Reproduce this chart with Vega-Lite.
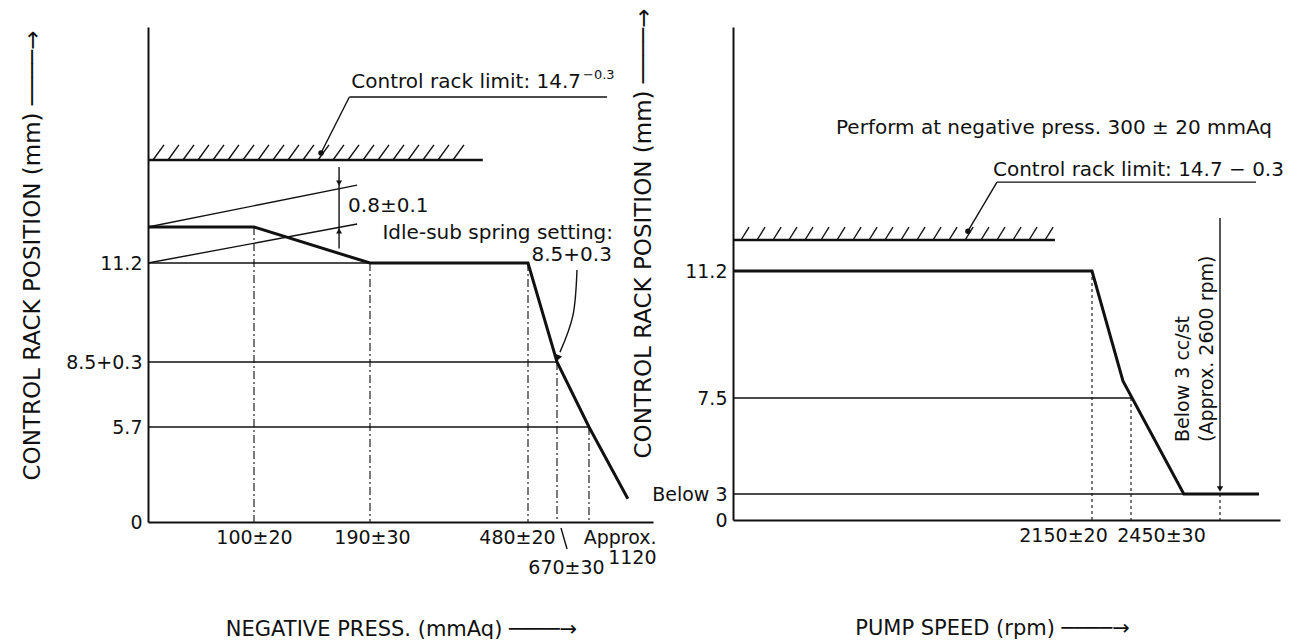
{
  "$schema": "https://vega.github.io/schema/vega-lite/v6.json",
  "background": "white",
  "padding": {"left": 20, "top": 0, "right": 5, "bottom": 0},
  "spacing": 80,
  "bounds": "flush",
  "datasets": {
    "L_curve": [{"x":0,"y":12.0},{"x":100,"y":12.0},{"x":190,"y":11.2},{"x":480,"y":11.2},{"x":670,"y":8.5},{"x":1120,"y":5.7},{"x":1290,"y":1.4}],
    "L_thin": [
      {"x":0,"y":11.2,"x2":480,"y2":11.2},
      {"x":0,"y":8.5,"x2":670,"y2":8.5},
      {"x":0,"y":5.7,"x2":1120,"y2":5.7},
      {"x":0,"y":12.0,"x2":180,"y2":13.69},
      {"x":0,"y":11.2,"x2":180,"y2":12.12},
      {"x":166,"y":14.42,"x2":166,"y2":11.52},
      {"x":174,"y":17.21,"x2":1199,"y2":17.21},
      {"x":174,"y":17.21,"x2":152,"y2":14.98},
      {"x":726,"y":-0.36,"x2":811,"y2":-1.62}
    ],
    "L_wall": [{"x":0,"y":14.7,"x2":397,"y2":14.7}],
    "L_hatch": [
      {"x":4.7,"y":14.7,"x2":15.1,"y2":15.3},{"x":18.9,"y":14.7,"x2":29.2,"y2":15.3},{"x":33.0,"y":14.7,"x2":43.4,"y2":15.3},
      {"x":47.2,"y":14.7,"x2":57.5,"y2":15.3},{"x":61.3,"y":14.7,"x2":71.7,"y2":15.3},{"x":75.5,"y":14.7,"x2":85.8,"y2":15.3},
      {"x":89.6,"y":14.7,"x2":100,"y2":15.3},{"x":103.1,"y":14.7,"x2":111.6,"y2":15.3},{"x":114.7,"y":14.7,"x2":123.3,"y2":15.3},
      {"x":126.4,"y":14.7,"x2":134.9,"y2":15.3},{"x":138.0,"y":14.7,"x2":146.5,"y2":15.3},{"x":149.7,"y":14.7,"x2":158.2,"y2":15.3},
      {"x":161.3,"y":14.7,"x2":169.8,"y2":15.3},{"x":172.9,"y":14.7,"x2":181.5,"y2":15.3},{"x":184.6,"y":14.7,"x2":197.3,"y2":15.3},
      {"x":204.7,"y":14.7,"x2":224.9,"y2":15.3},{"x":232.2,"y":14.7,"x2":252.4,"y2":15.3},{"x":259.7,"y":14.7,"x2":279.9,"y2":15.3},
      {"x":287.2,"y":14.7,"x2":307.4,"y2":15.3},{"x":314.8,"y":14.7,"x2":335.0,"y2":15.3},{"x":342.3,"y":14.7,"x2":362.5,"y2":15.3}
    ],
    "L_dashdot": [{"x":100,"y":12.0,"y2":0},{"x":190,"y":11.2,"y2":0},{"x":480,"y":11.2,"y2":0},{"x":670,"y":8.5,"y2":0},{"x":1120,"y":5.7,"y2":0}],
    "L_text_left": [{"x":173,"y":12.85,"t":"0.8±0.1"}],
    "L_text_right": [{"x":1008,"y":17.81,"t":"Control rack limit: 14.7"},{"x":1225,"y":11.87,"t":"Idle-sub spring setting:"},{"x":1220,"y":11.38,"t":"8.5+0.3"}],
    "L_sup": [{"x":1036,"y":18.09,"t":"−0.3"}],
    "L_dot": [{"x":152,"y":14.98}],
    "L_arrow_down": [{"x":166,"y":13.77}],
    "L_arrow_up": [{"x":166,"y":11.91}],
    "L_leader": [{"x":951,"y":11.01},{"x":895,"y":9.78},{"x":712,"y":8.77}],
    "L_leader_head": [{"x":684,"y":8.61}],
    "R_curve": [{"x":0,"y":11.2},{"x":2150,"y":11.2},{"x":2388,"y":8.0},{"x":2539,"y":3},{"x":2730,"y":3}],
    "R_thin": [
      {"x":0,"y":7.5,"x2":2450,"y2":7.5},
      {"x":0,"y":3,"x2":2539,"y2":3},
      {"x":2600,"y":15.25,"x2":2600,"y2":3.3},
      {"x":1581,"y":16.14,"x2":2720,"y2":16.14},
      {"x":1581,"y":16.14,"x2":1407,"y2":14.92}
    ],
    "R_wall": [{"x":0,"y":14.7,"x2":1928,"y2":14.7}],
    "R_hatch": [
      {"x":48,"y":14.7,"x2":96,"y2":15.02},{"x":144,"y":14.7,"x2":192,"y2":15.02},{"x":240,"y":14.7,"x2":288,"y2":15.02},
      {"x":335,"y":14.7,"x2":383,"y2":15.02},{"x":431,"y":14.7,"x2":479,"y2":15.02},{"x":527,"y":14.7,"x2":575,"y2":15.02},
      {"x":623,"y":14.7,"x2":671,"y2":15.02},{"x":719,"y":14.7,"x2":767,"y2":15.02},{"x":815,"y":14.7,"x2":863,"y2":15.02},
      {"x":910,"y":14.7,"x2":958,"y2":15.02},{"x":1006,"y":14.7,"x2":1054,"y2":15.02},{"x":1102,"y":14.7,"x2":1150,"y2":15.02},
      {"x":1198,"y":14.7,"x2":1246,"y2":15.02},{"x":1294,"y":14.7,"x2":1342,"y2":15.02},{"x":1390,"y":14.7,"x2":1438,"y2":15.02},
      {"x":1485,"y":14.7,"x2":1533,"y2":15.02},{"x":1581,"y":14.7,"x2":1629,"y2":15.02},{"x":1677,"y":14.7,"x2":1725,"y2":15.02},
      {"x":1773,"y":14.7,"x2":1821,"y2":15.02},{"x":1869,"y":14.7,"x2":1917,"y2":15.02}
    ],
    "R_dotted": [{"x":2150,"y":11.2,"y2":0},{"x":2450,"y":7.5,"y2":0},{"x":2600,"y":3,"y2":0}],
    "R_text": [{"x":617,"y":17.49,"t":"Perform at negative press. 300 ± 20 mmAq"},{"x":1557,"y":16.44,"t":"Control rack limit: 14.7 − 0.3"}],
    "R_vtext": [{"x":2538,"y":5.44,"t":"Below 3 cc/st"},{"x":2578,"y":5.44,"t":"(Approx.  2600 rpm)"}],
    "R_dot": [{"x":1407,"y":14.92}],
    "R_arrow_down": [{"x":2600,"y":3.23}]
  },
  "hconcat": [
    {
      "width": 505,
      "height": 495,
      "encoding": {
        "x": {
          "field": "x", "type": "quantitative",
          "scale": {"domain": [0,100,190,480,670,1120,1400], "range": [0,106,222,380,409,441,505], "zero": false, "nice": false},
          "axis": {
            "values": [100,190,480,670,1120],
            "labelExpr": "datum.value == 100 ? '100±20' : datum.value == 190 ? '190±30' : datum.value == 480 ? '480±20' : datum.value == 670 ? '670±30' : ['Approx.', '1120']",
            "labelLineHeight": 20,
            "labelOffset": {"condition": [{"test": "datum.value == 480", "value": -11}, {"test": "datum.value == 670", "value": 9}, {"test": "datum.value == 1120", "value": 67}, {"test": "datum.value == 190", "value": 2}], "value": 0},
            "labelPadding": {"condition": {"test": "datum.value == 670", "value": 36}, "value": 6},
            "labelAlign": {"condition": {"test": "datum.value == 1120", "value": "right"}, "value": "center"},
            "title": "NEGATIVE PRESS. (mmAq)  ────→",
            "titleFontSize": 21,
            "titleX": 253,
            "titleY": 107,
            "titleAlign": "center",
            "titleBaseline": "middle"
          }
        },
        "y": {
          "field": "y", "type": "quantitative",
          "scale": {"domain": [0,5.7,8.5,11.2,12,14.7,20], "range": [495,400,335,236,200,133,0], "zero": false, "nice": false},
          "axis": {
            "values": [0,5.7,8.5,11.2],
            "labelExpr": "datum.value == 8.5 ? '8.5+0.3' : datum.value == 11.2 ? '11.2' : datum.value == 5.7 ? '5.7' : '0'",
            "title": "CONTROL RACK POSITION (mm)  ────→",
            "titleFontSize": 23,
            "titleAngle": 270,
            "titleAlign": "left",
            "titleBaseline": "middle",
            "titleX": -116,
            "titleY": 453
          }
        }
      },
      "layer": [
        {"data": {"name": "L_dashdot"}, "mark": {"type": "rule", "strokeWidth": 1.2, "strokeDash": [8,3,2,3], "color": "#222"}, "encoding": {"y2": {"field": "y2"}}},
        {"data": {"name": "L_thin"}, "mark": {"type": "rule", "strokeWidth": 1.4, "color": "#111"}, "encoding": {"x2": {"field": "x2"}, "y2": {"field": "y2"}}},
        {"data": {"name": "L_wall"}, "mark": {"type": "rule", "strokeWidth": 2.4, "color": "#111"}, "encoding": {"x2": {"field": "x2"}, "y2": {"field": "y2"}}},
        {"data": {"name": "L_hatch"}, "mark": {"type": "rule", "strokeWidth": 1.4, "color": "#111"}, "encoding": {"x2": {"field": "x2"}, "y2": {"field": "y2"}}},
        {"data": {"name": "L_curve"}, "mark": {"type": "line", "strokeWidth": 3, "color": "#111"}, "encoding": {}},
        {"data": {"name": "L_leader"}, "mark": {"type": "line", "strokeWidth": 1.4, "color": "#111", "interpolate": "natural"}, "encoding": {}},
        {"data": {"name": "L_leader_head"}, "mark": {"type": "point", "shape": "triangle-down", "filled": true, "size": 45, "angle": 20, "color": "#111", "opacity": 1}, "encoding": {}},
        {"data": {"name": "L_arrow_down"}, "mark": {"type": "point", "shape": "triangle-down", "filled": true, "size": 35, "color": "#111", "opacity": 1}, "encoding": {}},
        {"data": {"name": "L_arrow_up"}, "mark": {"type": "point", "shape": "triangle-up", "filled": true, "size": 35, "color": "#111", "opacity": 1}, "encoding": {}},
        {"data": {"name": "L_dot"}, "mark": {"type": "point", "shape": "circle", "filled": true, "size": 30, "color": "#111", "opacity": 1}, "encoding": {}},
        {"data": {"name": "L_text_left"}, "mark": {"type": "text", "align": "left", "baseline": "middle", "fontSize": 20, "font": "DejaVu Sans", "color": "#111"}, "encoding": {"text": {"field": "t"}}},
        {"data": {"name": "L_text_right"}, "mark": {"type": "text", "align": "right", "baseline": "middle", "fontSize": 20, "font": "DejaVu Sans", "color": "#111"}, "encoding": {"text": {"field": "t"}}},
        {"data": {"name": "L_sup"}, "mark": {"type": "text", "align": "left", "baseline": "middle", "fontSize": 13, "font": "DejaVu Sans", "color": "#111"}, "encoding": {"text": {"field": "t"}}}
      ]
    },
    {
      "width": 547,
      "height": 493,
      "encoding": {
        "x": {
          "field": "x", "type": "quantitative",
          "scale": {"domain": [0,2150,2450,2600,2800], "range": [0,359,398,487,547], "zero": false, "nice": false},
          "axis": {
            "values": [2150,2450],
            "labelExpr": "datum.value == 2150 ? '2150±20' : '2450±30'",
            "labelOffset": {"condition": {"test": "datum.value == 2150", "value": -29}, "value": 30},
            "title": "PUMP SPEED (rpm)  ────→",
            "titleFontSize": 21,
            "titleX": 259,
            "titleY": 108,
            "titleAlign": "center",
            "titleBaseline": "middle"
          }
        },
        "y": {
          "field": "y", "type": "quantitative",
          "scale": {"domain": [0,3,7.5,11.2,14.7,20], "range": [493,467,371,244,213,0], "zero": false, "nice": false},
          "axis": {
            "values": [0,3,7.5,11.2],
            "labelExpr": "datum.value == 3 ? 'Below 3' : datum.value == 7.5 ? '7.5' : datum.value == 11.2 ? '11.2' : '0'",
            "title": "CONTROL RACK POSITION (mm)  ────→",
            "titleFontSize": 23,
            "titleAngle": 270,
            "titleAlign": "left",
            "titleBaseline": "middle",
            "titleX": -90,
            "titleY": 431
          }
        }
      },
      "layer": [
        {"data": {"name": "R_dotted"}, "mark": {"type": "rule", "strokeWidth": 1.2, "strokeDash": [3,3], "color": "#222"}, "encoding": {"y2": {"field": "y2"}}},
        {"data": {"name": "R_thin"}, "mark": {"type": "rule", "strokeWidth": 1.4, "color": "#111"}, "encoding": {"x2": {"field": "x2"}, "y2": {"field": "y2"}}},
        {"data": {"name": "R_wall"}, "mark": {"type": "rule", "strokeWidth": 2.4, "color": "#111"}, "encoding": {"x2": {"field": "x2"}, "y2": {"field": "y2"}}},
        {"data": {"name": "R_hatch"}, "mark": {"type": "rule", "strokeWidth": 1.4, "color": "#111"}, "encoding": {"x2": {"field": "x2"}, "y2": {"field": "y2"}}},
        {"data": {"name": "R_curve"}, "mark": {"type": "line", "strokeWidth": 3, "color": "#111"}, "encoding": {}},
        {"data": {"name": "R_arrow_down"}, "mark": {"type": "point", "shape": "triangle-down", "filled": true, "size": 40, "color": "#111", "opacity": 1}, "encoding": {}},
        {"data": {"name": "R_dot"}, "mark": {"type": "point", "shape": "circle", "filled": true, "size": 30, "color": "#111", "opacity": 1}, "encoding": {}},
        {"data": {"name": "R_text"}, "mark": {"type": "text", "align": "left", "baseline": "middle", "fontSize": 20, "font": "DejaVu Sans", "color": "#111"}, "encoding": {"text": {"field": "t"}}},
        {"data": {"name": "R_vtext"}, "mark": {"type": "text", "align": "left", "baseline": "middle", "angle": 270, "fontSize": 19, "font": "DejaVu Sans", "color": "#111"}, "encoding": {"text": {"field": "t"}}}
      ]
    }
  ],
  "config": {
    "view": {"stroke": null},
    "font": "DejaVu Sans",
    "axis": {
      "domainColor": "#111",
      "domainWidth": 2,
      "ticks": false,
      "grid": false,
      "labelFont": "DejaVu Sans",
      "labelFontSize": 19,
      "labelColor": "#111",
      "labelPadding": 6,
      "labelOverlap": false,
      "labelFlush": false,
      "titleFont": "DejaVu Sans",
      "titleFontWeight": "normal",
      "titleColor": "#111"
    }
  }
}
